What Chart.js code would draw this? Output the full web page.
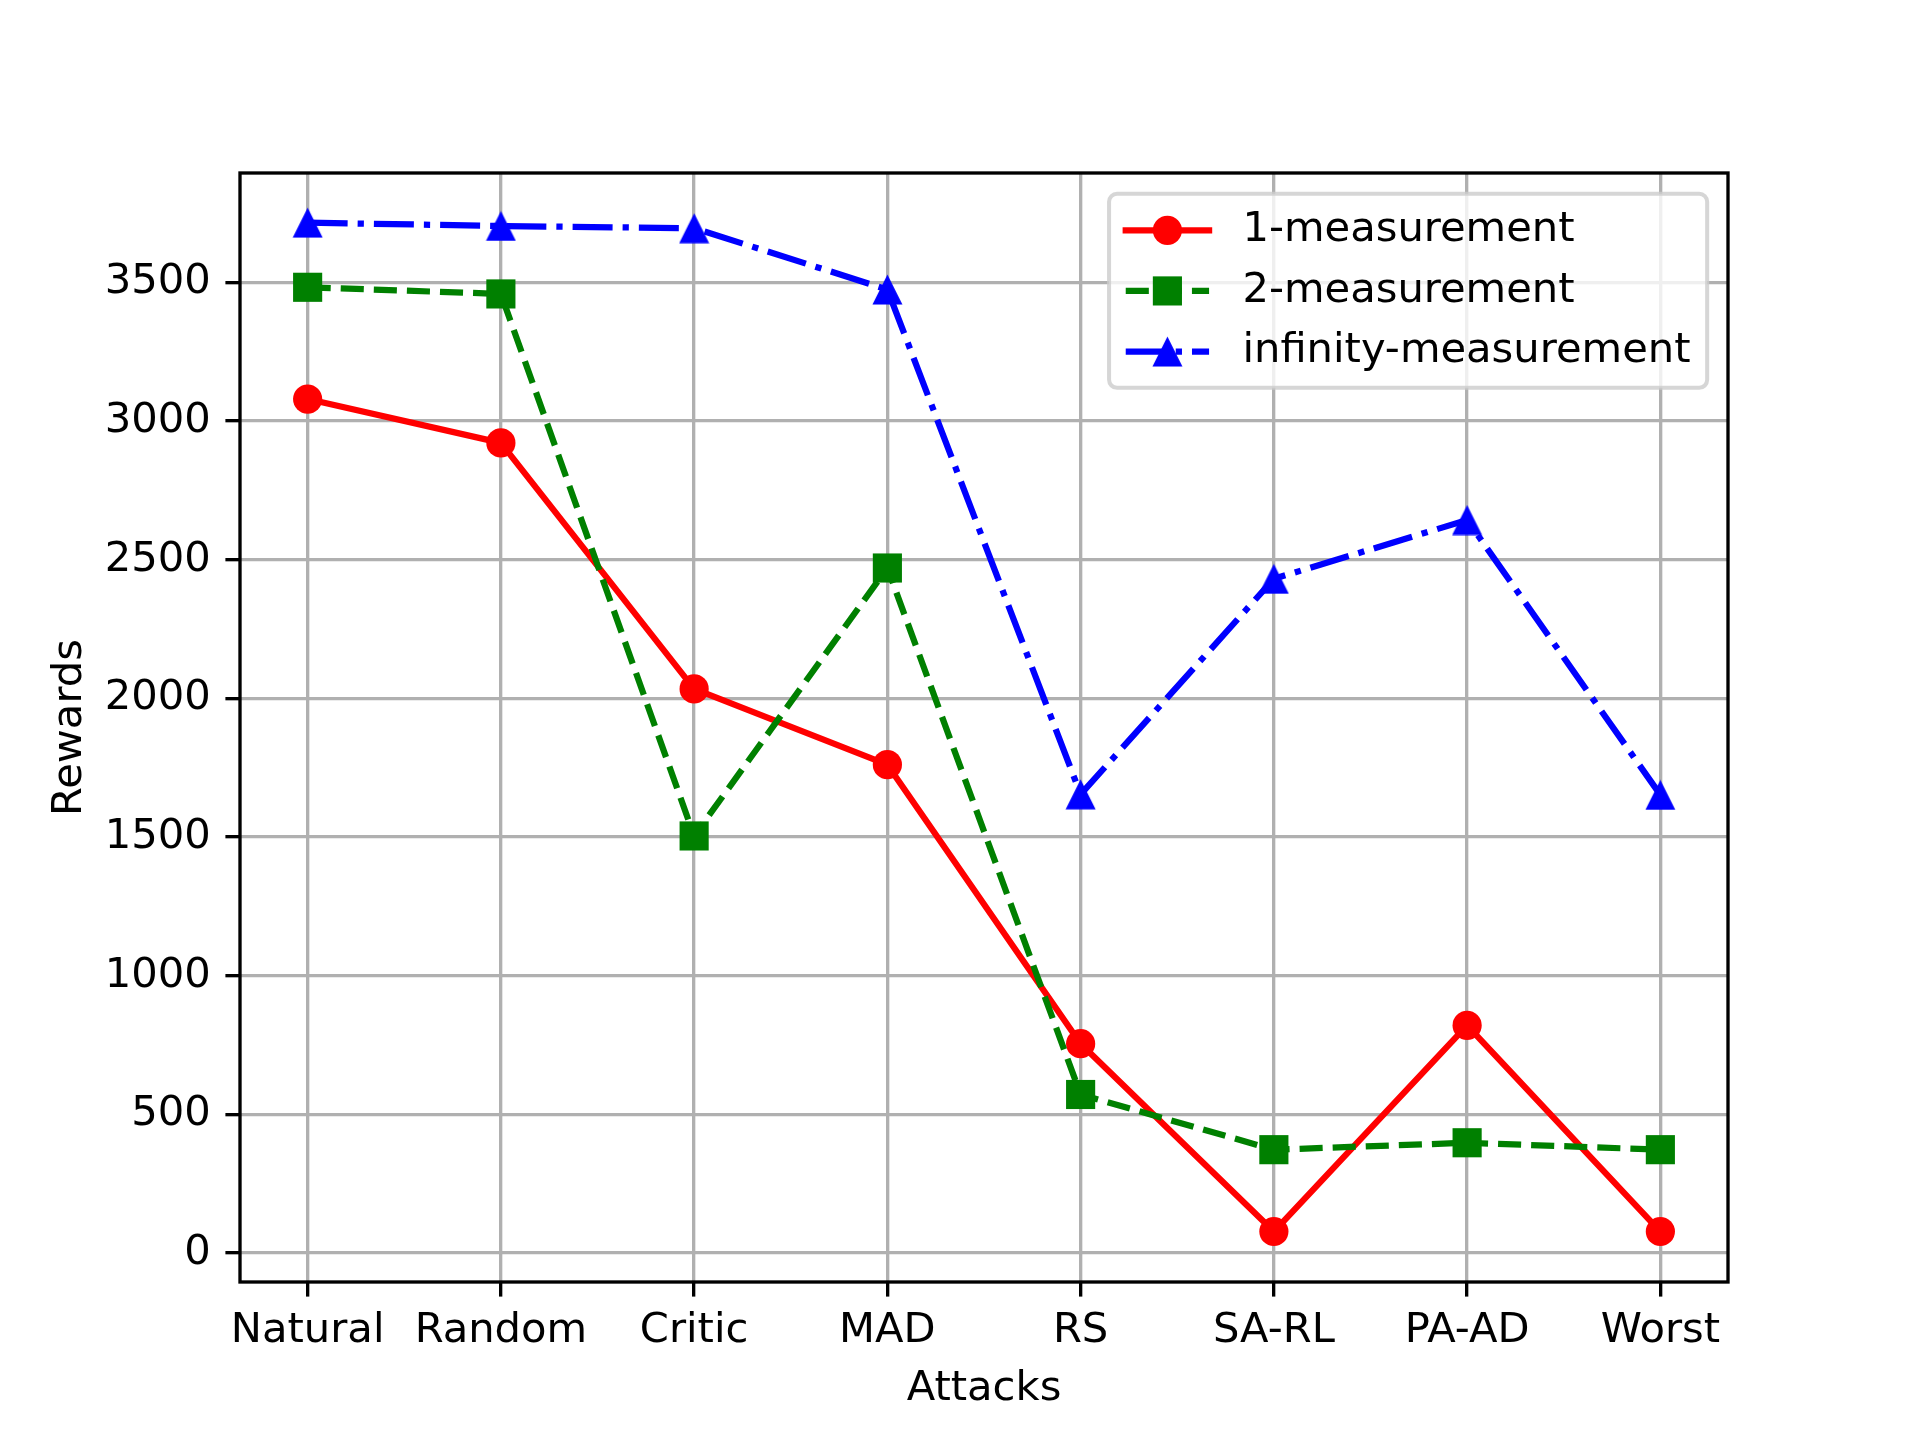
<!DOCTYPE html>
<html>
<head>
<meta charset="utf-8">
<title>Rewards under attacks</title>
<script src="https://cdn.jsdelivr.net/npm/chart.js@4.4.0/dist/chart.umd.min.js"></script>
<style>
    html, body { margin: 0; padding: 0; background: #fff; }
    #chart { display: block; }
</style>
</head>
<body>
<canvas id="chart" width="1920" height="1440"></canvas>
<script>
// Rewards of the three measurement variants under each attack

const attacks = ['Natural', 'Random', 'Critic', 'MAD', 'RS', 'SA-RL', 'PA-AD', 'Worst'];
const oneMeasurement = [3079, 2921, 2034, 1761, 755, 78, 821, 78];
const twoMeasurement = [3482, 3458, 1504, 2470, 572, 373, 398, 373];
const infMeasurement = [3715, 3703, 3695, 3474, 1654, 2431, 2643, 1652];
const seriesNames = ['1-measurement', '2-measurement', 'infinity-measurement'];
const rewardTicks = [0, 500, 1000, 1500, 2000, 2500, 3000, 3500];

const yMin = -104;
const yMax = 3894;

const FONT_PX = 41.67;   // 10pt at 300 dpi
const LINE_PX = 6.25;    // 1.5pt
const THIN_PX = 3.33;    // 0.8pt
const TICK_PX = 14.6;    // 3.5pt

Chart.defaults.font.family = '"DejaVu Sans", sans-serif';
Chart.defaults.font.size = FONT_PX;
Chart.defaults.color = '#000';

// matplotlib style '^' marker
function triangleMarker(color, size) {
    const c = document.createElement('canvas');
    c.width = size;
    c.height = size;
    const g = c.getContext('2d');
    g.fillStyle = color;
    g.beginPath();
    g.moveTo(size / 2, 0.5);
    g.lineTo(size - 0.5, size - 0.5);
    g.lineTo(0.5, size - 0.5);
    g.closePath();
    g.fill();
    return c;
}

function toPoints(values) {
    return values.map((v, i) => ({ x: i, y: v }));
}

const datasets = [
    {
        label: seriesNames[0],
        data: toPoints(oneMeasurement),
        borderColor: '#ff0000',
        backgroundColor: '#ff0000',
        pointBackgroundColor: '#ff0000',
        borderWidth: LINE_PX,
        borderDash: [],
        pointStyle: 'circle',
        pointRadius: 14.6,
        order: 3
    },
    {
        label: seriesNames[1],
        data: toPoints(twoMeasurement),
        borderColor: '#008000',
        backgroundColor: '#008000',
        pointBackgroundColor: '#008000',
        borderWidth: LINE_PX,
        borderDash: [23.1, 10],
        pointStyle: 'rect',
        pointRadius: 20.6,
        order: 2
    },
    {
        label: seriesNames[2],
        data: toPoints(infMeasurement),
        borderColor: '#0000ff',
        backgroundColor: '#0000ff',
        pointBackgroundColor: '#0000ff',
        borderWidth: LINE_PX,
        borderDash: [40, 10, 6.25, 10],
        pointStyle: triangleMarker('#0000ff', 31),
        pointRadius: 15,
        order: 1
    }
];

datasets.forEach(d => {
    d.pointBorderWidth = 0;
    d.fill = false;
    d.tension = 0;
    d.borderJoinStyle = 'round';
});

function drawMarker(ctx, d, x, y) {
    ctx.fillStyle = d.pointBackgroundColor;
    if (typeof d.pointStyle === 'object') {
        ctx.drawImage(d.pointStyle, x - d.pointStyle.width / 2, y - d.pointStyle.height / 2);
    } else if (d.pointStyle === 'rect') {
        const s = d.pointRadius * Math.SQRT1_2;
        ctx.fillRect(x - s, y - s, 2 * s, 2 * s);
    } else {
        ctx.beginPath();
        ctx.arc(x, y, d.pointRadius, 0, Math.PI * 2);
        ctx.fill();
    }
}

function drawLegend(chart) {
    const { ctx, chartArea: area } = chart;
    const pad = 0.4 * FONT_PX;
    const handleLen = 2 * FONT_PX;
    const textGap = 0.8 * FONT_PX;
    const rowStep = 60.6;
    const boxH = 194;
    const sets = chart.data.datasets;

    ctx.font = FONT_PX + 'px "DejaVu Sans"';
    const textW = Math.max(...sets.map(d => ctx.measureText(d.label).width));
    const right = area.right - 0.5 * FONT_PX;
    const top = area.top + 0.5 * FONT_PX;
    const left = right - (2 * pad + handleLen + textGap + textW);

    ctx.beginPath();
    ctx.roundRect(left, top, right - left, boxH, 8);
    ctx.fillStyle = 'rgba(255, 255, 255, 0.8)';
    ctx.fill();
    ctx.strokeStyle = 'rgba(204, 204, 204, 0.8)';
    ctx.lineWidth = 4;
    ctx.stroke();

    sets.forEach((d, i) => {
        const y = top + 36.5 + i * rowStep;
        const x0 = left + pad;
        const x1 = x0 + handleLen;

        ctx.save();
        ctx.beginPath();
        ctx.setLineDash(d.borderDash);
        ctx.lineCap = d.borderDash.length ? 'butt' : 'square';
        ctx.lineWidth = d.borderWidth;
        ctx.strokeStyle = d.borderColor;
        ctx.moveTo(x0, y);
        ctx.lineTo(x1, y);
        ctx.stroke();
        ctx.restore();

        drawMarker(ctx, d, (x0 + x1) / 2, y);

        ctx.fillStyle = '#000';
        ctx.textAlign = 'left';
        ctx.textBaseline = 'middle';
        ctx.fillText(d.label, x1 + textGap, y);
    });
}

const frameAndLegend = {
    id: 'frameAndLegend',
    afterDraw(chart) {
        const { ctx, chartArea: area } = chart;
        ctx.save();
        // full axes frame, drawn over the lines like matplotlib spines
        ctx.strokeStyle = '#000';
        ctx.lineWidth = THIN_PX;
        ctx.strokeRect(area.left, area.top, area.right - area.left, area.bottom - area.top);
        drawLegend(chart);
        ctx.restore();
    }
};

new Chart(document.getElementById('chart'), {
    type: 'line',
    data: { datasets: datasets },
    plugins: [frameAndLegend],
    options: {
        responsive: false,
        devicePixelRatio: 1,
        animation: false,
        events: [],
        layout: {
            padding: { top: 173, right: 192, bottom: 0, left: 0 }
        },
        plugins: {
            legend: { display: false },
            tooltip: { enabled: false }
        },
        scales: {
            x: {
                type: 'linear',
                min: -0.35,
                max: attacks.length - 1 + 0.35,
                afterBuildTicks: (scale) => {
                    scale.ticks = attacks.map((_, i) => ({ value: i }));
                },
                afterFit: (scale) => {
                    scale.height = 158;
                },
                ticks: {
                    callback: (v) => attacks[v],
                    autoSkip: false,
                    maxRotation: 0,
                    padding: 10,
                    color: '#000'
                },
                grid: {
                    color: '#b0b0b0',
                    lineWidth: THIN_PX,
                    tickColor: '#000',
                    tickWidth: THIN_PX,
                    tickLength: TICK_PX
                },
                border: { display: false },
                title: {
                    display: true,
                    text: 'Attacks',
                    color: '#000',
                    padding: { top: 0, bottom: 26 }
                }
            },
            y: {
                type: 'linear',
                min: yMin,
                max: yMax,
                afterBuildTicks: (scale) => {
                    scale.ticks = rewardTicks.map(v => ({ value: v }));
                },
                afterFit: (scale) => {
                    scale.width = 240;
                },
                ticks: {
                    callback: (v) => String(v),
                    autoSkip: false,
                    padding: TICK_PX,
                    color: '#000'
                },
                grid: {
                    color: '#b0b0b0',
                    lineWidth: THIN_PX,
                    tickColor: '#000',
                    tickWidth: THIN_PX,
                    tickLength: TICK_PX
                },
                border: { display: false },
                title: {
                    display: true,
                    text: 'Rewards',
                    color: '#000',
                    padding: { top: 45, bottom: 0 }
                }
            }
        }
    }
});
</script>
</body>
</html>
